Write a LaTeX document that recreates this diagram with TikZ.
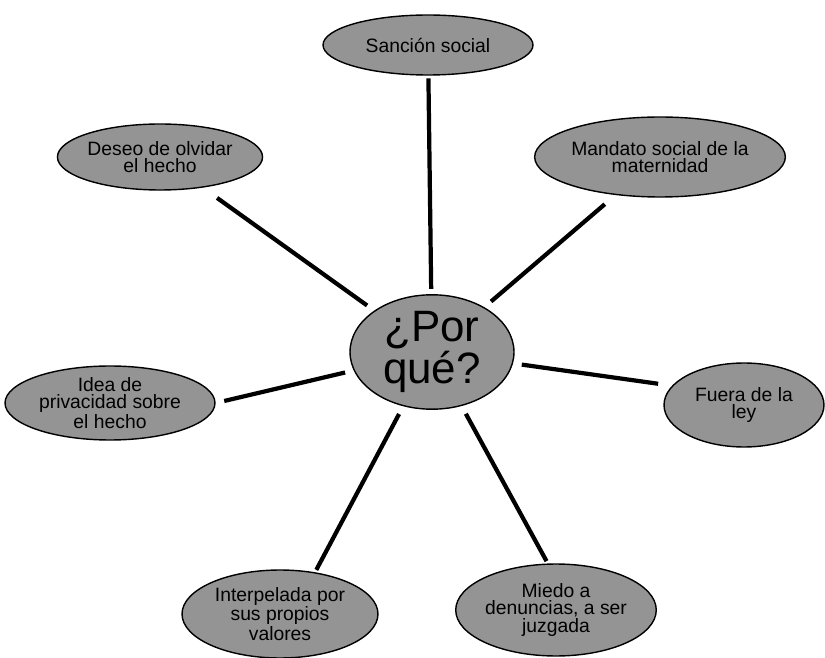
\documentclass[tikz,border=0pt]{standalone}
\usepackage{fontspec}
\setmainfont{Liberation Sans}
\usetikzlibrary{shapes.geometric}
\tikzset{
  bubble/.style={ellipse, draw=black, line width=0.8pt, fill=black!42,
    inner sep=0pt, align=center, font=\fontsize{11}{10}\selectfont},
  hub/.style={bubble, font=\fontsize{25}{19}\selectfont},
  link/.style={draw=black, line width=2.4pt, shorten <=5pt, shorten >=6pt}
}
\begin{document}
\begin{tikzpicture}[x=0.02cm, y=-0.02cm]
  \useasboundingbox (0,0) rectangle (825,658);
  % central question
  \node[hub, minimum width=3.28cm, minimum height=2.28cm] (por) at (432,352) {¿Por\\qué?};
  % surrounding reasons
  \node[bubble, minimum width=4.2cm,  minimum height=1.2cm]  (san) at (428,45)  {Sanción social};
  \node[bubble, minimum width=3.8cm,  minimum height=1.32cm] (des) at (160,157) {Deseo de olvidar\\el hecho};
  \node[bubble, minimum width=4.6cm,  minimum height=1.6cm]  (man) at (660,157) {Mandato social de la\\maternidad};
  \node[bubble, minimum width=4.2cm,  minimum height=1.48cm] (ide) at (110,403) {Idea de\\privacidad sobre\\el hecho};
  \node[bubble, minimum width=3.2cm,  minimum height=1.68cm] (fue) at (744,405) {Fuera de la\\ley};
  \node[bubble, minimum width=3.92cm, minimum height=1.76cm] (int) at (280,614) {Interpelada por\\sus propios\\valores};
  \node[bubble, minimum width=3.72cm, minimum height=1.84cm] (mie) at (556,610) {Miedo a\\denuncias, a ser\\juzgada};
  % spokes
  \draw[link, shorten >=1.5pt, shorten <=3pt] (por) -- (san);
  \draw[link, shorten >=10pt] (por) -- (des);
  \draw[link, shorten >=8pt] (por) -- (man);
  \draw[link, shorten >=5pt] (por) -- (ide.east);
  \draw[link, shorten >=8pt] (por) -- (fue.165);
  \draw[link, shorten >=1.5pt] (por) -- (int.50);
  \draw[link, shorten >=1.5pt] (por) -- (mie.100);
\end{tikzpicture}
\end{document}
